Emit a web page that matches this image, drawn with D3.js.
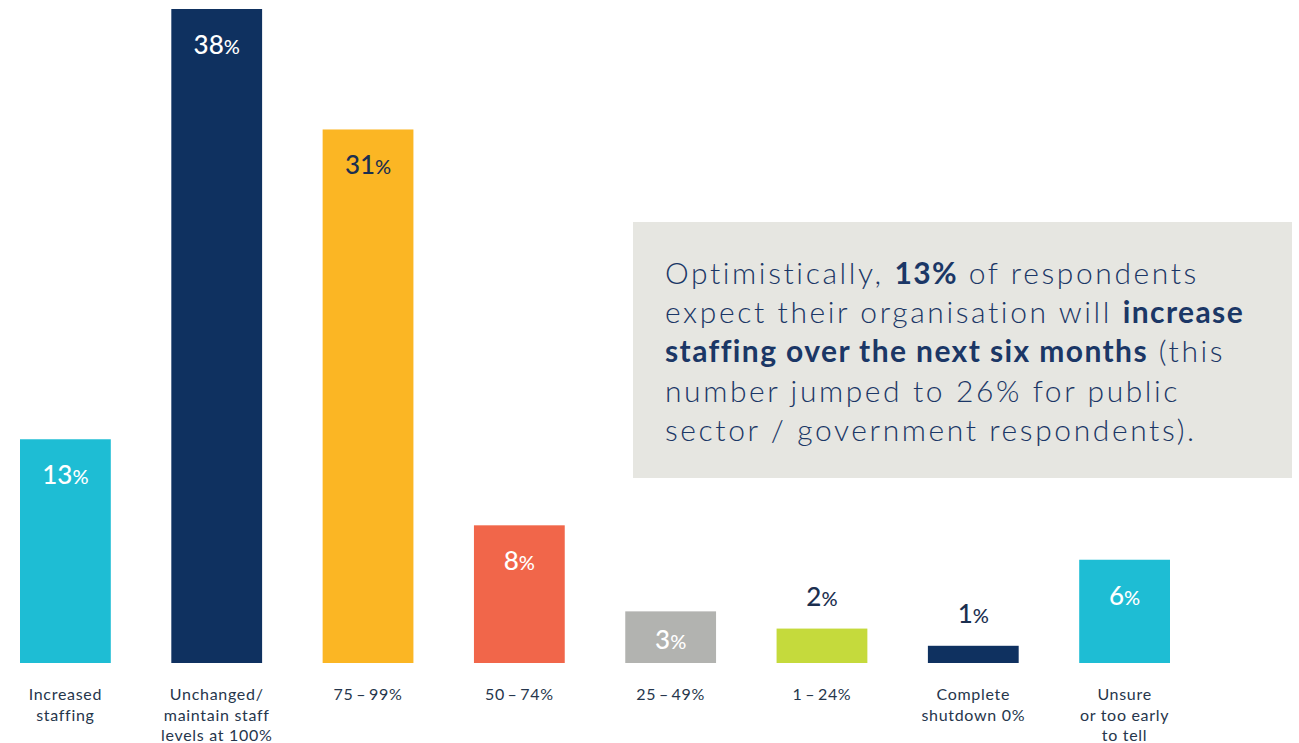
<!DOCTYPE html>
<html>
<head>
<meta charset="utf-8">
<script src="https://cdn.jsdelivr.net/npm/d3@7"></script>
<style>
  html, body { margin: 0; padding: 0; background: #ffffff; }
  svg { display: block; }
</style>
</head>
<body>
<svg id="chart" width="1299" height="743"></svg>
<script>
// Staffing expectations over the next six months
const categories = [
  "Increased staffing",
  "Unchanged/ maintain staff levels at 100%",
  "75–99%",
  "50–74%",
  "25–49%",
  "1–24%",
  "Complete shutdown 0%",
  "Unsure or too early to tell"
];
const categoryLines = [
  ["Increased", "staffing"],
  ["Unchanged/", "maintain staff", "levels at 100%"],
  ["75\u2009–\u200999%"],
  ["50\u2009–\u200974%"],
  ["25\u2009–\u200949%"],
  ["1\u2009–\u200924%"],
  ["Complete", "shutdown 0%"],
  ["Unsure", "or too early", "to tell"]
];
const values = [13, 38, 31, 8, 3, 2, 1, 6];
const barColors = ["#1ebdd4", "#0f3160", "#fbb624", "#f1664a", "#b2b3b0", "#c5da3c", "#0f3160", "#1ebdd4"];
const labelColors = ["#ffffff", "#ffffff", "#1b2f4f", "#ffffff", "#ffffff", "#1b2f4f", "#1b2f4f", "#ffffff"];
// labels that sit above short bars instead of inside them
const labelOutside = [false, false, false, false, false, true, true, false];

const svg = d3.select("#chart");
const baseY = 663;

const x = d3.scaleBand()
  .domain(categories)
  .range([20, 1170])
  .paddingInner(0.4)
  .paddingOuter(0);

const y = d3.scaleLinear()
  .domain([0, 38])
  .range([baseY, 9]);

const data = categories.map((c, i) => ({
  cat: c, value: values[i], color: barColors[i],
  labelColor: labelColors[i], outside: labelOutside[i], lines: categoryLines[i]
}));

// Bars
svg.append("g").selectAll("rect")
  .data(data)
  .join("rect")
  .attr("x", d => x(d.cat))
  .attr("y", d => y(d.value))
  .attr("width", x.bandwidth())
  .attr("height", d => baseY - y(d.value))
  .attr("fill", d => d.color);

// Value labels
const vl = svg.append("g").selectAll("text")
  .data(data)
  .join("text")
  .attr("x", d => x(d.cat) + x.bandwidth() / 2)
  .attr("y", d => {
    if (d.outside) return y(d.value) - 23;
    if (d.value < 4) return y(d.value) + 38;
    return y(d.value) + 45;
  })
  .attr("text-anchor", "middle")
  .attr("fill", d => d.labelColor)
  .style("font-family", "Lato, 'Open Sans', sans-serif")
  .style("font-weight", 500);

vl.append("tspan")
  .style("font-size", "26px")
  .text(d => d.value);
vl.append("tspan")
  .style("font-size", "20px")
  .text("%");

// Category labels
const cl = svg.append("g").selectAll("text")
  .data(data)
  .join("text")
  .attr("x", d => x(d.cat) + x.bandwidth() / 2)
  .attr("y", 700)
  .attr("text-anchor", "middle")
  .attr("fill", "#26364c")
  .style("font-family", "Lato, 'Open Sans', sans-serif")
  .style("font-size", "16px")
  .style("letter-spacing", "0.7px");

cl.selectAll("tspan")
  .data(d => d.lines.map((t, i) => ({ t, i, cx: x(d.cat) + x.bandwidth() / 2 })))
  .join("tspan")
  .attr("x", d => d.cx)
  .attr("dy", d => d.i === 0 ? 0 : 20.5)
  .text(d => d.t);

// Callout box
const box = svg.append("g");
box.append("rect")
  .attr("x", 633).attr("y", 222)
  .attr("width", 659).attr("height", 256)
  .attr("fill", "#e6e6e1");

const calloutLines = [
  [["Optimistically, ", false], ["13%", true], [" of respondents", false]],
  [["expect their organisation will ", false], ["increase", true]],
  [["staffing over the next six months", true], [" (this", false]],
  [["number jumped to 26% for public", false]],
  [["sector / government respondents).", false]]
];

const ct = box.append("text")
  .attr("fill", "#1b3766")
  .style("font-family", "Lato, 'Open Sans', sans-serif")
  .style("font-size", "30px");

calloutLines.forEach((line, li) => {
  line.forEach((seg, si) => {
    const ts = ct.append("tspan").text(seg[0])
      .style("font-weight", seg[1] ? 700 : 300)
      .style("letter-spacing", seg[1] ? "1.4px" : "2.6px");
    if (si === 0) ts.attr("x", 665).attr("y", 284 + li * 39.2);
  });
});
</script>
</body>
</html>
